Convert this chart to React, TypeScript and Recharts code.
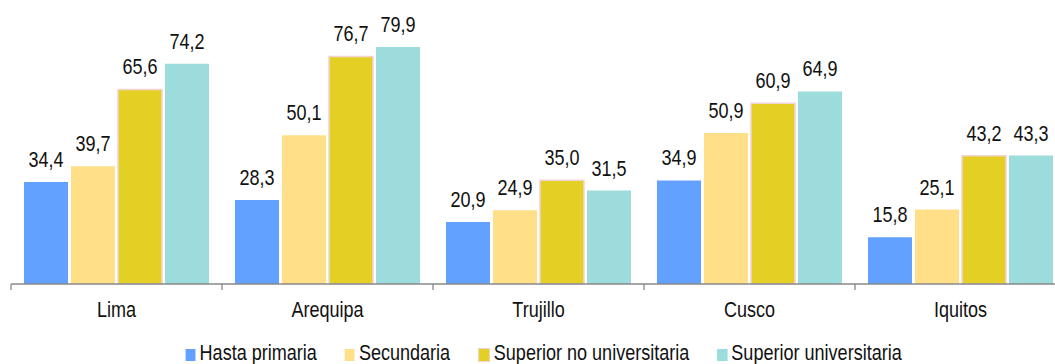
import React from 'react';
import { BarChart, Bar, XAxis, YAxis, LabelList, Legend } from 'recharts';

const categories = ['Lima', 'Arequipa', 'Trujillo', 'Cusco', 'Iquitos'];
const hastaPrimaria = [34.4, 28.3, 20.9, 34.9, 15.8];
const secundaria = [39.7, 50.1, 24.9, 50.9, 25.1];
const superiorNoUniv = [65.6, 76.7, 35.0, 60.9, 43.2];
const superiorUniv = [74.2, 79.9, 31.5, 64.9, 43.3];

const seriesNames = ['Hasta primaria', 'Secundaria', 'Superior no universitaria', 'Superior universitaria'];
const seriesKeys = ['hp', 'sec', 'snu', 'su'];
const seriesColors = ['#62A1FF', '#FFDF88', '#E4CF25', '#9DDCDC'];
const seriesStrokes = ['none', 'none', '#F2D4D6', 'none'];

const data = categories.map((c, i) => ({
  name: c,
  hp: hastaPrimaria[i],
  sec: secundaria[i],
  snu: superiorNoUniv[i],
  su: superiorUniv[i],
}));

const FONT = "'Liberation Sans', Arial, sans-serif";
const SX = 0.82;

const fmt = (v: any) => Number(v).toFixed(1).replace('.', ',');

const CatTick = (props: any) => {
  const { x, y, payload, width, visibleTicksCount, index } = props;
  const half = width / visibleTicksCount / 2;
  const last = index === visibleTicksCount - 1;
  return (
    <g>
      <line x1={x - half} x2={x - half} y1={y} y2={y + 6} stroke="#888" strokeWidth={1.3} />
      {last && <line x1={x + half} x2={x + half} y1={y} y2={y + 6} stroke="#888" strokeWidth={1.3} />}
      <text
        transform={`translate(${x},${y + 33}) scale(${SX},1)`}
        x={0}
        y={0}
        textAnchor="middle"
        fontSize={22}
        fontFamily={FONT}
        fill="#111"
      >
        {payload.value}
      </text>
    </g>
  );
};

const ValueLabel = (props: any) => {
  const { x, y, width, value } = props;
  const cx = Number(x) + Number(width) / 2;
  const by = Number(y) - 15;
  return (
    <text
      transform={`translate(${cx},${by}) scale(${SX},1)`}
      x={0}
      y={0}
      textAnchor="middle"
      fontSize={22}
      fontFamily={FONT}
      fill="#111"
    >
      {fmt(value)}
    </text>
  );
};

const LegendContent = () => (
  <div style={{ display: 'flex', justifyContent: 'center', height: 26, paddingLeft: 10 }}>
    <div
      style={{
        display: 'flex',
        alignItems: 'center',
        height: 26,
        paddingTop: 3,
        fontFamily: FONT,
        fontSize: 22,
        color: '#111',
        boxSizing: 'border-box',
        transform: `scaleX(${SX})`,
        transformOrigin: 'center',
        whiteSpace: 'nowrap',
      }}
    >
      {seriesNames.map((n, i) => (
        <div key={n} style={{ display: 'flex', alignItems: 'center', marginRight: i < 3 ? 28 / SX : 0 }}>
          <span
            style={{
              display: 'inline-block',
              width: 10 / SX,
              height: 12,
              background: seriesColors[i],
              border: i === 2 ? '1px solid #F2D4D6' : 'none',
              marginRight: 4 / SX,
              marginTop: 4,
            }}
          />
          <span style={{ lineHeight: '26px' }}>{n}</span>
        </div>
      ))}
    </div>
  </div>
);

export default function App() {
  return (
    <div style={{ position: 'absolute', left: 0, top: 0, width: 1055, height: 364, overflow: 'hidden', background: '#fff' }}>
      <BarChart
        width={1070}
        height={364}
        data={data}
        margin={{ top: 17, right: 4, left: 11, bottom: 0 }}
        barCategoryGap={13}
        barGap={3}
      >
        <XAxis
          dataKey="name"
          height={54}
          tickLine={false}
          tickSize={0}
          tickMargin={0}
          axisLine={{ stroke: '#888', strokeWidth: 1.3 }}
          tick={<CatTick />}
          interval={0}
        />
        <YAxis hide domain={[0, 90]} />
        <Legend verticalAlign="bottom" height={26} content={<LegendContent />} />
        {seriesKeys.map((k, i) => (
          <Bar
            key={k}
            dataKey={k}
            name={seriesNames[i]}
            fill={seriesColors[i]}
            stroke={seriesStrokes[i]}
            strokeWidth={1.5}
            isAnimationActive={false}
          >
            <LabelList dataKey={k} position="top" content={<ValueLabel />} />
          </Bar>
        ))}
      </BarChart>
    </div>
  );
}
